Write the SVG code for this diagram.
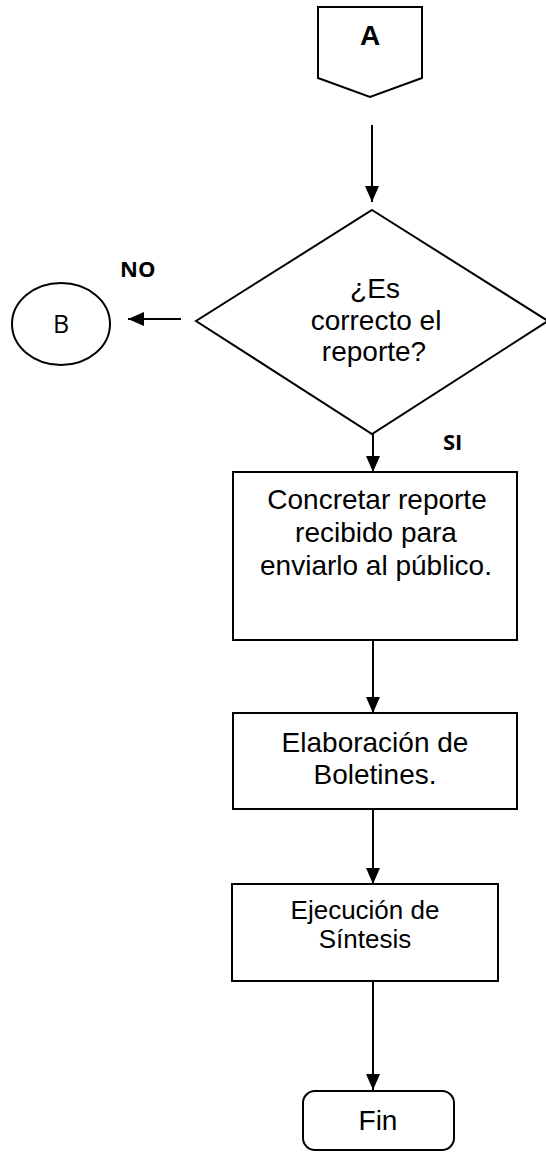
<svg xmlns="http://www.w3.org/2000/svg" width="546" height="1154" viewBox="0 0 546 1154">
<style>
.shape{fill:#fff;stroke:#000;stroke-width:2}
.t{font-family:"Liberation Sans",Arial,sans-serif;font-size:28px;fill:#000;text-anchor:middle}
.c{font-family:"Open Sans","Liberation Sans",sans-serif;fill:#000}
.conn{stroke:#000;stroke-width:2;fill:none;marker-end:url(#arr)}
</style>
<defs>
<marker id="arr" markerUnits="userSpaceOnUse" markerWidth="16" markerHeight="14" refX="16" refY="7" orient="auto">
<path d="M0,0 L16,7 L0,14 Z" fill="#000"/>
</marker>
</defs>
<g id="nodeA">
<polygon class="shape" points="318,7 422,7 422,78 370,97 318,78"/>
<text class="t" x="370" y="45" style="font-weight:bold">A</text>
</g>
<g id="decision">
<polygon class="shape" points="372,210 548,321 372,434 196,321"/>
<text class="t" x="375" y="298">¿Es</text>
<text class="t" x="376" y="330">correcto el</text>
<text class="t" x="374" y="361">reporte?</text>
</g>
<g id="nodeB">
<ellipse class="shape" cx="61" cy="324" rx="49" ry="41"/>
<text class="c" x="61" y="333" font-size="25" text-anchor="middle">B</text>
</g>
<g id="labels">
<text class="c" x="120" y="277" font-size="22" font-weight="bold">NO</text>
<text class="c" x="443" y="450" font-size="22" font-weight="bold">SI</text>
</g>
<g id="concretar">
<rect class="shape" x="233" y="472" width="284" height="168"/>
<text class="t" x="377" y="509">Concretar reporte</text>
<text class="t" x="376" y="542">recibido para</text>
<text class="t" x="376" y="575">enviarlo al público.</text>
</g>
<g id="elaboracion">
<rect class="shape" x="233" y="713" width="284" height="96"/>
<text class="t" x="375" y="752">Elaboración de</text>
<text class="t" x="375" y="784">Boletines.</text>
</g>
<g id="ejecucion">
<rect class="shape" x="232" y="884" width="266" height="97"/>
<text class="t" x="365" y="919" style="font-size:26px">Ejecución de</text>
<text class="t" x="365" y="948" style="font-size:26px">Síntesis</text>
</g>
<g id="fin">
<rect class="shape" x="303" y="1091" width="151" height="59" rx="12" ry="12"/>
<text class="t" x="378" y="1130">Fin</text>
</g>
<g id="connectors">
<line class="conn" x1="372" y1="125" x2="372" y2="202"/>
<line class="conn" x1="181" y1="319" x2="128" y2="319"/>
<line class="conn" x1="373" y1="434" x2="373" y2="472"/>
<line class="conn" x1="373" y1="640" x2="373" y2="713"/>
<line class="conn" x1="373" y1="809" x2="373" y2="884"/>
<line class="conn" x1="373" y1="981" x2="373" y2="1090"/>
</g>
</svg>
